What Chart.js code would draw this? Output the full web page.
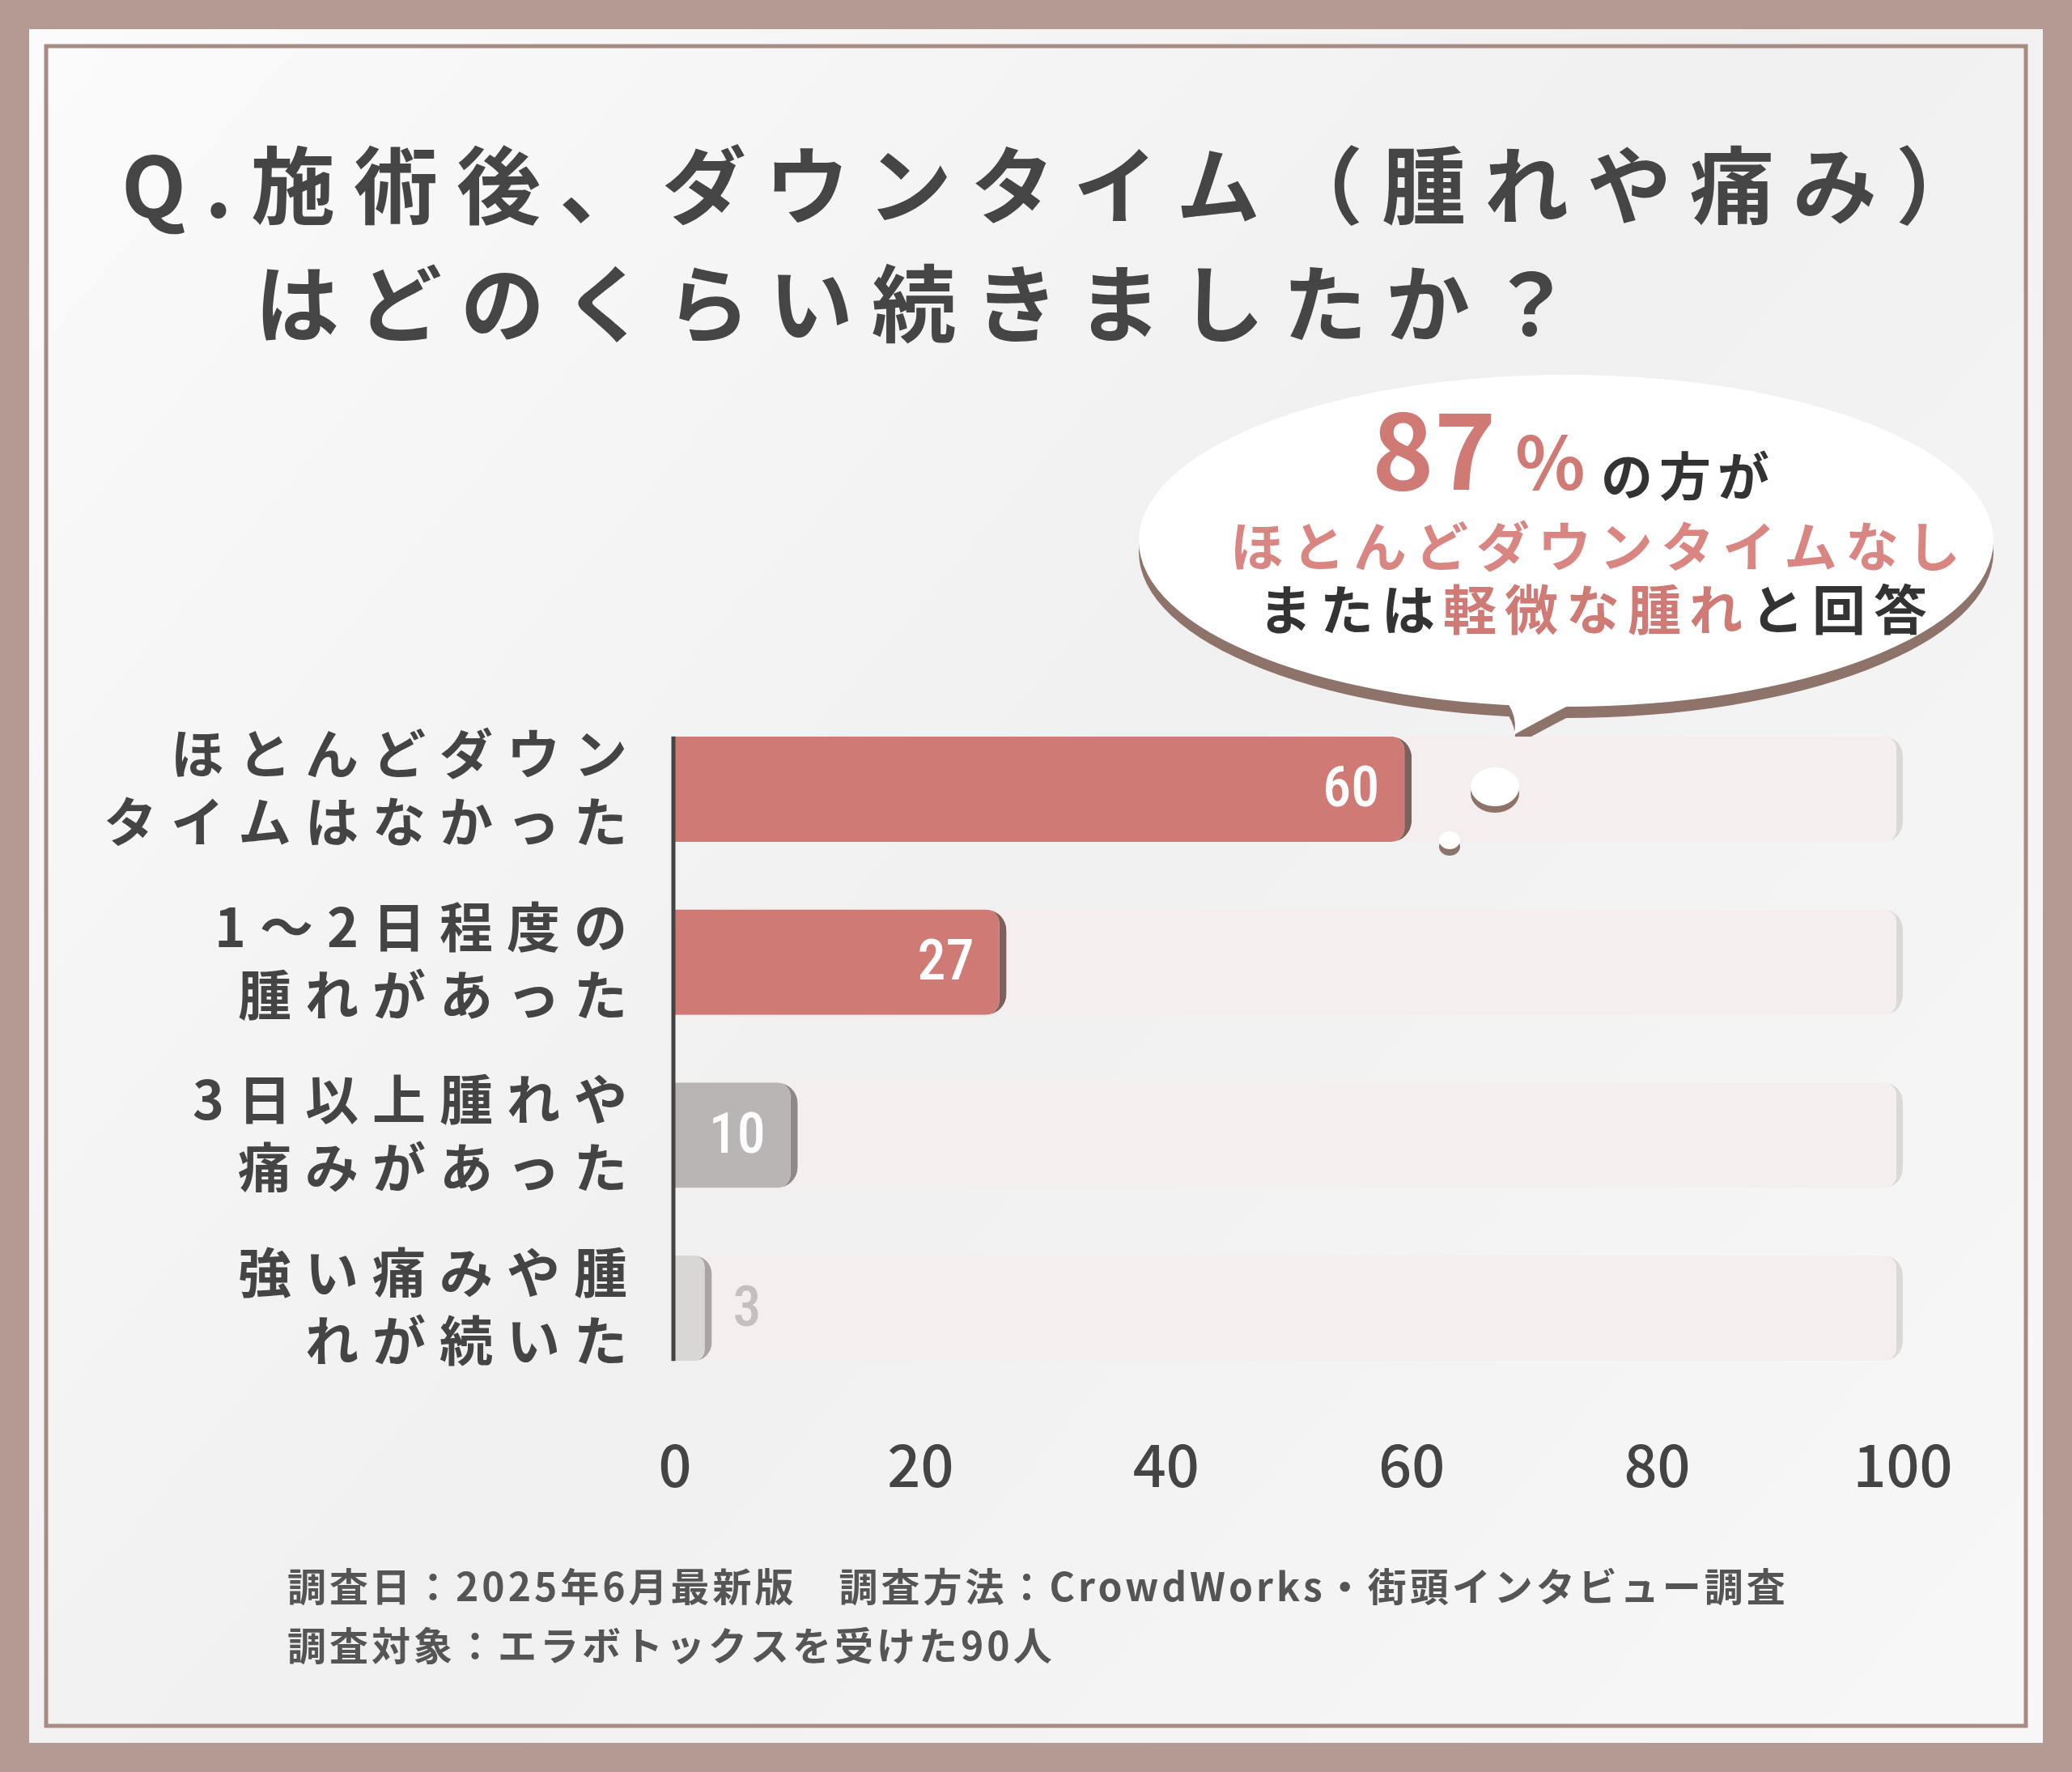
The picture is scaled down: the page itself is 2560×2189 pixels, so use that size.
<!DOCTYPE html>
<html><head><meta charset="utf-8">
<script src="https://cdn.jsdelivr.net/npm/chart.js@4"></script>
<style>html,body{margin:0;padding:0;background:#b39a92;}canvas{display:block}</style>
</head><body>
<canvas id="c" width="2560" height="2189"></canvas>
<script>
const categories = [["ほとんどダウン","タイムはなかった"],["1～2日程度の","腫れがあった"],["3日以上腫れや","痛みがあった"],["強い痛みや腫","れが続いた"]];
const values = [60, 27, 10, 3];
const trackValues = [100, 100, 100, 100];
const xTicks = [0, 20, 40, 60, 80, 100];
const barColors = ["#d07a76","#d07a76","#b9b5b5","#d9d6d6"];
const edgeColors = ["#7b605c","#7b605c","#8e8888","#a9a5a5"];
const FONT = '"Noto Sans CJK JP", "Noto Sans", sans-serif';

const deco = {
  id:'deco',
  beforeDraw(c){
    const ctx=c.ctx;
    ctx.save();
    ctx.fillStyle='#b39a92';ctx.fillRect(0,0,2560,2189);
    const g=ctx.createLinearGradient(0,0,2560,2189);
    g.addColorStop(0,'#fbfbfb');g.addColorStop(0.5,'#f1f0f0');g.addColorStop(1,'#f8f8f8');
    ctx.fillStyle=g;ctx.fillRect(36,36,2488,2117);
    ctx.strokeStyle='#a88c84';ctx.lineWidth=5;ctx.strokeRect(57,57,2446,2075);
    ctx.fillStyle='#454545';ctx.font='bold 104px '+FONT;ctx.textBaseline='middle';ctx.textAlign='left';
    ctx.letterSpacing='23px';
    ctx.fillText('Q.施術後、ダウンタイム（腫れや痛み）',150,229);
    ctx.fillText('はどのくらい続きましたか？',315,375);
    ctx.letterSpacing='0px';
    const bub=(dy,col)=>{ctx.fillStyle=col;ctx.beginPath();
      ctx.ellipse(1935,668+dy,528,205,0,0,Math.PI*2);ctx.fill();
      ctx.beginPath();ctx.moveTo(1840,840+dy);ctx.quadraticCurveTo(1880,880+dy,1870,908+dy);ctx.quadraticCurveTo(1920,880+dy,2000,840+dy);ctx.fill();};
    bub(14,'#8e736a');bub(0,'#ffffff');
    ctx.textBaseline='alphabetic';
    ctx.fillStyle='#d07a76';ctx.font='bold 130px '+FONT;ctx.fillText('87',1695,605);
    ctx.font='bold 90px '+FONT;ctx.fillText('%',1872,605);
    ctx.fillStyle='#333';ctx.font='bold 64px '+FONT;ctx.letterSpacing='8px';ctx.fillText('の方が',1978,612);
    ctx.fillStyle='#d98582';ctx.font='bold 66px '+FONT;ctx.letterSpacing='10px';ctx.fillText('ほとんどダウンタイムなし',1520,700);
    let x=1555;const parts=[['または','#333'],['軽微な腫れ','#d07a76'],['と回答','#333']];
    for(const [t,col] of parts){ctx.fillStyle=col;ctx.fillText(t,x,778);x+=ctx.measureText(t).width;}
    ctx.fillStyle='#555';ctx.font='bold 48px '+FONT;ctx.textBaseline='middle';ctx.letterSpacing='4px';
    ctx.fillText('調査日：2025年6月最新版　調査方法：CrowdWorks・街頭インタビュー調査',355,1960);
    ctx.fillText('調査対象：エラボトックスを受けた90人',355,2033);
    ctx.restore();
  },
  afterDraw(c){
    const ctx=c.ctx, y=c.scales.y, xs=c.scales.x;
    ctx.save();
    // bubble dots over bars
    [[1847,972,30,24],[1791,1038,13,11]].forEach(([cx,cy,rx,ry])=>{
      ctx.fillStyle='#8e736a';ctx.beginPath();ctx.ellipse(cx,cy+8,rx,ry,0,0,Math.PI*2);ctx.fill();
      ctx.fillStyle='#fff';ctx.beginPath();ctx.ellipse(cx,cy,rx,ry,0,0,Math.PI*2);ctx.fill();});
    // axis line across bars
    const m=c.getDatasetMeta(0).data;
    const top=m[0].y-m[0].height/2, bot=m[3].y+m[3].height/2;
    ctx.strokeStyle='#444';ctx.lineWidth=5;ctx.beginPath();ctx.moveTo(xs.left-2,top);ctx.lineTo(xs.left-2,bot);ctx.stroke();
    ctx.fillStyle='#444';ctx.font='bold 66px '+FONT;ctx.textAlign='right';ctx.textBaseline='middle';ctx.letterSpacing='17px';
    categories.forEach((l,i)=>{const yc=y.getPixelForValue(i);ctx.fillText(l[0],792,yc-44);ctx.fillText(l[1],792,yc+40);});
    ctx.letterSpacing='0px';ctx.textAlign='center';ctx.font='500 72px '+FONT;ctx.fillStyle='#444';
    xTicks.forEach(v=>ctx.fillText(String(v),xs.getPixelForValue(v),1810));
    const meta=c.getDatasetMeta(1);
    ctx.font='500 70px "Roboto Condensed", "DejaVu Sans Condensed", '+FONT;
    meta.data.forEach((b,i)=>{const v=values[i];
      if(v>=10){ctx.fillStyle='#fff';ctx.textAlign='right';ctx.fillText(String(v),b.x-40,b.y+4);}
      else{ctx.fillStyle='#c4c0c0';ctx.textAlign='left';ctx.fillText(String(v),b.x+26,b.y+4);}
    });
    ctx.restore();
  }
};

new Chart(document.getElementById('c'),{
  type:'bar',
  data:{labels:categories.map(l=>l.join('')),datasets:[
    {data:trackValues,backgroundColor:'#f4eeee',borderColor:'#dcd8d8',borderWidth:{right:8},borderRadius:{topRight:24,bottomRight:24},borderSkipped:'start',barPercentage:0.61,categoryPercentage:1,grouped:false,order:2},
    {data:values,backgroundColor:barColors,borderColor:edgeColors,borderWidth:{right:9},borderRadius:{topRight:26,bottomRight:26},borderSkipped:'start',barPercentage:0.61,categoryPercentage:1,grouped:false,order:1}
  ]},
  options:{indexAxis:'y',responsive:false,animation:false,devicePixelRatio:1,
    layout:{padding:{left:826,right:209,top:868,bottom:458}},
    plugins:{legend:{display:false},tooltip:{enabled:false}},
    scales:{
      x:{min:0,max:100,ticks:{display:false},grid:{display:false},border:{display:false}},
      y:{ticks:{display:false},grid:{display:false},border:{display:false}}
    }},
  plugins:[deco]
});
</script>
</body></html>
